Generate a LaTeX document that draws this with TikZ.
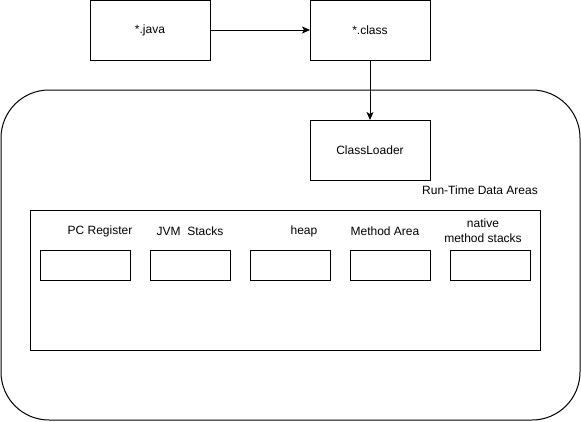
\documentclass[tikz,border=0pt]{standalone}
\usepackage{fontspec}
\setmainfont{Liberation Sans}
\usetikzlibrary{arrows.meta}
\begin{document}
\begin{tikzpicture}[x=1pt,y=-1pt,
  every node/.style={inner sep=0pt, outer sep=0pt, font=\fontsize{12}{15}\selectfont},
  box/.style={draw, line width=1pt, minimum width=120pt, minimum height=60pt},
  slot/.style={draw, line width=1pt, minimum width=80pt, minimum height=30pt},
  lbl/.style={align=center},
  arr/.style={line width=1pt, -{Stealth[length=8pt,width=7pt,inset=2pt]}}]
\useasboundingbox (0,0) rectangle (581,421);
% outer container
\node[draw, line width=1pt, rounded corners=48pt, minimum width=579pt, minimum height=330pt] (jvm) at (290.5,255) {};
% top boxes
\node[box] (java) at (150,30) {*.java};
\node[box] (class) at (370,30) {*.class};
\node[box] (loader) at (370,150) {ClassLoader};
\node[lbl] (rtlabel) at (480,190) {Run-Time Data Areas};
% runtime data area
\node[draw, line width=1pt, minimum width=510pt, minimum height=140pt] (rt) at (285,280) {};
\node[slot, minimum width=90pt] (pc) at (85,265) {};
\node[slot] (stk) at (190,265) {};
\node[slot] (heap) at (290,265) {};
\node[slot] (meth) at (390,265) {};
\node[slot] (nat) at (490,265) {};
\node[lbl] (pcl) at (100,231) {PC Register};
\node[lbl] (stkl) at (190,231) {JVM\ \ Stacks};
\node[lbl] (heapl) at (304,231) {heap};
\node[lbl] (methl) at (385,231) {Method Area};
\node[lbl] (natl) at (483,230.5) {native\\method stacks};
% connectors
\draw[arr] (java) -- (class);
\draw[arr] (class) -- (loader);
\end{tikzpicture}
\end{document}
